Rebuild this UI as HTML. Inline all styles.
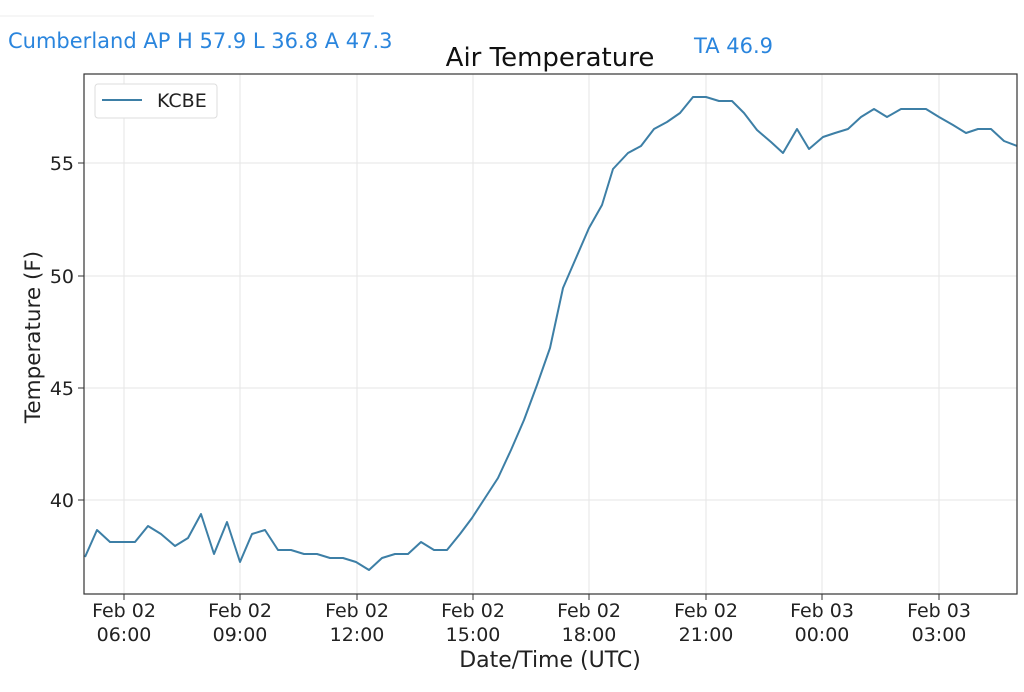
<!DOCTYPE html>
<html><head><meta charset="utf-8"><style>
body{margin:0;background:#fff;width:1024px;height:687px;overflow:hidden}
text{font-family:"DejaVu Sans","Liberation Sans",sans-serif}
</style></head><body>
<svg width="1024" height="687" xmlns="http://www.w3.org/2000/svg">
<line x1="0" y1="16" x2="374" y2="16" stroke="#eee" stroke-width="1"/>
<text x="8" y="48" font-size="21" fill="#2a85dd" font-family="Liberation Sans, sans-serif">Cumberland AP H 57.9 L 36.8 A 47.3</text>
<text x="694" y="53" font-size="21" fill="#2a85dd" font-family="Liberation Sans, sans-serif">TA 46.9</text>
<text x="550" y="66" font-size="26" text-anchor="middle" fill="#111">Air Temperature</text>
<g stroke="#e6e6e6" stroke-width="1">
<line x1="124" y1="74" x2="124" y2="594"/><line x1="240" y1="74" x2="240" y2="594"/><line x1="357" y1="74" x2="357" y2="594"/><line x1="473" y1="74" x2="473" y2="594"/><line x1="589" y1="74" x2="589" y2="594"/><line x1="706" y1="74" x2="706" y2="594"/><line x1="822" y1="74" x2="822" y2="594"/><line x1="939" y1="74" x2="939" y2="594"/>
<line x1="84" y1="163" x2="1017" y2="163"/><line x1="84" y1="276" x2="1017" y2="276"/><line x1="84" y1="388" x2="1017" y2="388"/><line x1="84" y1="500" x2="1017" y2="500"/>
</g>
<polyline fill="none" stroke="#3d7fa6" stroke-width="2" stroke-linejoin="round" points="85,557 97,530 110,542 122,542 135,542 148,526 161,534 175,546 188,538 201,514 214,554 227,522 240,562 252,534 265,530 278,550 291,550 304,554 317,554 330,558 343,558 356,562 369,570 382,558 395,554 408,554 421,542 434,550 447,550 460,534 472,518 485,498 498,478 511,450 524,420 537,385 550,348 563,288 576,258 589,228 602,205 613,169 628,153 641,146 654,129 667,122 680,113 693,97 706,97 719,101 732,101 744,113 757,130 771,142 783,153 797,129 809,149 823,137 835,133 848,129 861,117 874,109 887,117 901,109 913,109 926,109 939,117 953,125 966,133 978,129 991,129 1004,141 1017,146"/>
<rect x="84" y="74" width="933" height="520" fill="none" stroke="#333" stroke-width="1.2"/>
<g stroke="#333" stroke-width="1">
<line x1="124" y1="594" x2="124" y2="600"/><line x1="240" y1="594" x2="240" y2="600"/><line x1="357" y1="594" x2="357" y2="600"/><line x1="473" y1="594" x2="473" y2="600"/><line x1="589" y1="594" x2="589" y2="600"/><line x1="706" y1="594" x2="706" y2="600"/><line x1="822" y1="594" x2="822" y2="600"/><line x1="939" y1="594" x2="939" y2="600"/>
<line x1="78" y1="163" x2="84" y2="163"/><line x1="78" y1="276" x2="84" y2="276"/><line x1="78" y1="388" x2="84" y2="388"/><line x1="78" y1="500" x2="84" y2="500"/>
</g>
<g font-size="19" fill="#222" text-anchor="end">
<text x="74" y="170">55</text><text x="74" y="283">50</text><text x="74" y="395">45</text><text x="74" y="507">40</text>
</g>
<g font-size="19" fill="#222" text-anchor="middle">
<text x="124" y="617">Feb 02</text><text x="124" y="641">06:00</text>
<text x="240" y="617">Feb 02</text><text x="240" y="641">09:00</text>
<text x="357" y="617">Feb 02</text><text x="357" y="641">12:00</text>
<text x="473" y="617">Feb 02</text><text x="473" y="641">15:00</text>
<text x="589" y="617">Feb 02</text><text x="589" y="641">18:00</text>
<text x="706" y="617">Feb 02</text><text x="706" y="641">21:00</text>
<text x="822" y="617">Feb 03</text><text x="822" y="641">00:00</text>
<text x="939" y="617">Feb 03</text><text x="939" y="641">03:00</text>
</g>
<text x="550" y="667" font-size="22" text-anchor="middle" fill="#222">Date/Time (UTC)</text>
<text transform="translate(40,337) rotate(-90)" font-size="21.5" text-anchor="middle" fill="#222">Temperature (F)</text>
<rect x="95" y="84" width="122" height="34" rx="3" fill="#fff" stroke="#ddd"/>
<line x1="102" y1="100" x2="142" y2="100" stroke="#3d7fa6" stroke-width="2"/>
<text x="157" y="107" font-size="19" fill="#222">KCBE</text>
</svg>
</body></html>
